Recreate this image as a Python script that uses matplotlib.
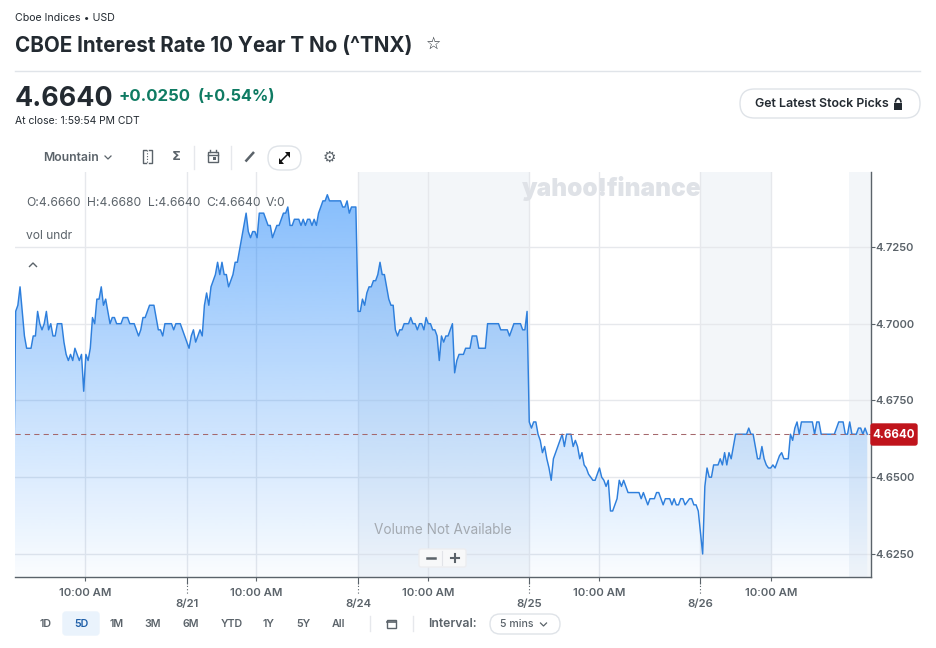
import numpy as np
import matplotlib
matplotlib.use("Agg")
import matplotlib.pyplot as plt
from matplotlib.patches import FancyBboxPatch, Rectangle, Arc

plt.rcParams['font.family'] = ['Inter', 'DejaVu Sans']

# --------------------------- data (5 min bars) ---------------------------
open_before = 4.640
day_0820 = [4.704, 4.706, 4.712, 4.704, 4.696, 4.692, 4.692, 4.692, 4.696, 4.696, 4.704, 4.700, 4.698,
            4.700, 4.704, 4.698, 4.700, 4.696, 4.696, 4.700, 4.700, 4.700, 4.694, 4.690, 4.688, 4.690,
            4.688, 4.692, 4.690, 4.688, 4.690, 4.678, 4.690, 4.688, 4.692, 4.702, 4.700, 4.708, 4.708,
            4.712, 4.706, 4.708, 4.704, 4.700, 4.702, 4.702, 4.700, 4.700, 4.700, 4.702, 4.702, 4.702,
            4.700, 4.700, 4.700, 4.698, 4.696, 4.698, 4.702, 4.702, 4.704, 4.706, 4.706, 4.706, 4.702,
            4.698, 4.698, 4.696, 4.700, 4.700, 4.700, 4.700, 4.698, 4.700, 4.700, 4.700, 4.698, 4.696]
day_0821 = [4.694, 4.692, 4.696, 4.698, 4.694, 4.696, 4.698, 4.696, 4.706, 4.710, 4.706, 4.712, 4.714,
            4.716, 4.720, 4.716, 4.720, 4.716, 4.716, 4.712, 4.714, 4.716, 4.720, 4.720, 4.724, 4.728,
            4.732, 4.736, 4.730, 4.728, 4.730, 4.730, 4.728, 4.736, 4.736, 4.736, 4.734, 4.732, 4.732,
            4.728, 4.730, 4.732, 4.732, 4.734, 4.736, 4.736, 4.738, 4.732, 4.732, 4.734, 4.734, 4.734,
            4.732, 4.734, 4.732, 4.734, 4.734, 4.732, 4.734, 4.732, 4.736, 4.738, 4.740, 4.740, 4.742,
            4.740, 4.740, 4.740, 4.740, 4.740, 4.740, 4.738, 4.738, 4.740, 4.736, 4.738, 4.738, 4.738]
day_0824 = [4.704, 4.704, 4.708, 4.706, 4.710, 4.712, 4.712, 4.714, 4.714, 4.716, 4.720, 4.716, 4.716,
            4.712, 4.708, 4.706, 4.706, 4.698, 4.696, 4.698, 4.698, 4.700, 4.700, 4.700, 4.702, 4.700,
            4.700, 4.698, 4.700, 4.700, 4.698, 4.702, 4.700, 4.700, 4.698, 4.698, 4.696, 4.688, 4.696,
            4.694, 4.696, 4.696, 4.698, 4.700, 4.684, 4.688, 4.690, 4.690, 4.690, 4.692, 4.692, 4.692,
            4.696, 4.696, 4.696, 4.692, 4.692, 4.692, 4.692, 4.700, 4.700, 4.700, 4.700, 4.700, 4.700,
            4.698, 4.698, 4.698, 4.698, 4.696, 4.698, 4.700, 4.700, 4.700, 4.700, 4.698, 4.698, 4.704]
day_0825 = [4.668, 4.666, 4.668, 4.668, 4.664, 4.662, 4.658, 4.660, 4.656, 4.653, 4.649, 4.656, 4.658,
            4.660, 4.662, 4.664, 4.660, 4.664, 4.664, 4.664, 4.660, 4.662, 4.660, 4.656, 4.658, 4.654,
            4.653, 4.651, 4.650, 4.649, 4.649, 4.651, 4.653, 4.650, 4.649, 4.647, 4.649, 4.639, 4.639,
            4.641, 4.643, 4.649, 4.647, 4.649, 4.647, 4.645, 4.645, 4.645, 4.645, 4.645, 4.645, 4.643,
            4.645, 4.643, 4.641, 4.643, 4.643, 4.643, 4.645, 4.645, 4.643, 4.641, 4.643, 4.643, 4.643,
            4.641, 4.643, 4.641, 4.641, 4.643, 4.643, 4.641, 4.642, 4.643, 4.643, 4.641, 4.641, 4.639]
day_0826 = [4.632, 4.625, 4.647, 4.653, 4.650, 4.650, 4.654, 4.654, 4.654, 4.656, 4.654, 4.658, 4.654,
            4.658, 4.656, 4.660, 4.664, 4.664, 4.664, 4.664, 4.664, 4.664, 4.666, 4.664, 4.664, 4.660,
            4.656, 4.656, 4.660, 4.656, 4.654, 4.653, 4.653, 4.654, 4.653, 4.655, 4.657, 4.658, 4.656,
            4.656, 4.656, 4.664, 4.662, 4.666, 4.668, 4.664, 4.668, 4.668, 4.668, 4.668, 4.668, 4.668,
            4.664, 4.668, 4.668, 4.664, 4.664, 4.664, 4.664, 4.664, 4.664, 4.664, 4.666, 4.668, 4.668,
            4.668, 4.664, 4.664, 4.668, 4.664, 4.664, 4.664, 4.666, 4.666, 4.664, 4.666, 4.664]

last_close = 4.664
y_ticks = [4.625, 4.650, 4.675, 4.700, 4.725]
time_ticks = [31.5, 109.5, 188, 266, 344]
time_labels = ['10:00 AM'] * 5
date_ticks = [78, 156, 234, 312]
date_labels = ['8/21', '8/24', '8/25', '8/26']
closed_spans = [(156, 234), (312, 344.5), (379.5, 390)]

ohlc_labels = ['O:4.6660', 'H:4.6680', 'L:4.6640', 'C:4.6640', 'V:0']
ohlc_x = [26, 87, 148.5, 206.5, 266]
range_labels = ['1D', '5D', '1M', '3M', '6M', 'YTD', '1Y', '5Y', 'All']
range_x = [46, 81, 117, 153, 191, 231.5, 269, 303.5, 338]

values = np.array([open_before] + day_0820 + day_0821 + day_0824 + day_0825 + day_0826)
bars = np.arange(len(values)) - 1

# --------------------------- colours ---------------------------
GREY = '#5b636a'
DARK = '#232a31'
GRID = '#e6e8ec'
W, H = 937, 648

fig = plt.figure(figsize=(W / 100, H / 100), dpi=100, facecolor='white')

# chart sits at pixel box x 15-871, y 172-577
ax = fig.add_axes([15 / W, 1 - 577 / H, 856 / W, 405 / H])
ax.set_xlim(-0.3, 389.7)
ax.set_ylim(4.6175, 4.7494)
ax.set_facecolor('white')

for start, end in closed_spans:
    ax.axvspan(start, end, color='#f3f6f9', lw=0, zorder=0)

for t in time_ticks + date_ticks:
    ax.axvline(t, color=GRID, lw=1, zorder=1)
for v in y_ticks:
    ax.axhline(v, color=GRID, lw=1, zorder=1)

# mountain fill: blue with fading alpha, clipped to the area under the line
poly = ax.fill_between(bars, values, ax.get_ylim()[0], color='none', lw=0)
grad = np.zeros((256, 1, 4))
grad[..., 0] = 10 / 255
grad[..., 1] = 122 / 255
grad[..., 2] = 250 / 255
grad[..., 3] = np.linspace(0.52, 0.02, 256)[:, None]
im = ax.imshow(grad, extent=[-0.3, 389.7, ax.get_ylim()[0], ax.get_ylim()[1]], origin='upper',
               aspect='auto', zorder=2)
im.set_clip_path(poly.get_paths()[0], transform=ax.transData)

ax.plot(bars, values, color='#2e7fdc', lw=1.05, zorder=3)
ax.axhline(last_close, color='#a5686c', lw=0.75, ls=(0, (5, 4)), zorder=4)

ax.set_yticks(y_ticks)
ax.set_yticklabels([f'{v:.4f}' for v in y_ticks])
ax.yaxis.tick_right()
ax.set_xticks(time_ticks)
ax.set_xticklabels(time_labels)
ax.set_xticks(date_ticks, minor=True)
ax.set_xticklabels(date_labels, minor=True)
ax.tick_params(axis='y', which='major', length=3, width=0.8, color=GREY, pad=0.5,
               labelsize=8.0, labelcolor=GREY)
ax.tick_params(axis='x', which='major', length=3, width=0.8, color=GREY, pad=5,
               labelsize=8.2, labelcolor=GREY)
ax.tick_params(axis='x', which='minor', length=5, width=0.8, color=GREY, pad=11,
               labelsize=8.2, labelcolor=GREY)
for lab in ax.get_xticklabels() + ax.get_yticklabels() + ax.get_xticklabels(minor=True):
    lab.set_fontweight('semibold')

for side in ['top', 'left']:
    ax.spines[side].set_visible(False)
for side in ['bottom', 'right']:
    ax.spines[side].set_color(GREY)
    ax.spines[side].set_linewidth(1)

# date ticks carry a dotted tail down to their label
tr = ax.get_xaxis_transform()
for t in date_ticks:
    ax.plot([t, t], [-0.012, -0.045], transform=tr, color=GREY, lw=0.8, ls=(0, (1, 2)), clip_on=False)

# --------------------------- page furniture, in pixel coordinates ---------------------------
ui = fig.add_axes([0, 0, 1, 1], zorder=5)
ui.set_xlim(0, W)
ui.set_ylim(H, 0)
ui.axis('off')
ui.patch.set_alpha(0)


def label(x, y, s, px, color=GREY, weight='normal', ha='left', **kw):
    # va center sits a little high for Inter, nudge down
    return ui.text(x, y + 1.2, s, fontsize=px * 0.72, color=color, fontweight=weight, ha=ha, va='center', **kw)


def pill(x0, y0, x1, y1, r, edge='#dfe3e8', face='white', lw=1, z=2):
    ui.add_patch(FancyBboxPatch((x0 + r, y0 + r), x1 - x0 - 2 * r, y1 - y0 - 2 * r,
                                boxstyle=f'round,pad={r},rounding_size={r}', fc=face, ec=edge, lw=lw, zorder=z))


label(15, 17, 'Cboe Indices • USD', 10.6, color=DARK)
label(15, 45, 'CBOE Interest Rate 10 Year T No (^TNX)', 20.6, color=DARK, weight='bold')
label(434, 43, '☆', 17, color=DARK, ha='center', family='DejaVu Sans')
ui.plot([15, 920], [70.5, 70.5], color='#e0e4e9', lw=1)

label(15, 98, '4.6640', 26.8, color=DARK, weight='bold')
label(119, 95, '+0.0250', 16.8, color='#0f7b63', weight='bold')
label(198, 95, '(+0.54%)', 16.2, color='#0f7b63', weight='bold')
label(15, 119.5, 'At close: 1:59:54 PM CDT', 10.4, color=DARK)

pill(740, 89, 920, 118, 14.5)
label(755, 103, 'Get Latest Stock Picks', 12.4, color=DARK, weight='semibold')
ui.add_patch(Rectangle((894, 103), 8.5, 6.5, fc=DARK, ec='none', zorder=3))
ui.add_patch(Arc((898.2, 102.5), 5.5, 8, theta1=180, theta2=360, color=DARK, lw=1.2, zorder=3))

# toolbar
label(43, 156.5, 'Mountain', 12.2, weight='semibold')
ui.plot([105, 108, 111], [156, 159, 156], color=GREY, lw=0.9)
ui.plot([146, 143, 143, 146], [150, 150, 163, 163], color=GREY, lw=1)
ui.plot([149, 152, 152, 149], [150, 150, 163, 163], color=GREY, lw=1)
ui.plot([147.5, 147.5], [150, 163], color=GREY, lw=0.8, ls=(0, (1, 1.5)))
label(176, 155.5, 'Σ', 13, weight='bold', ha='center', family='DejaVu Sans')
ui.plot([194.5, 194.5], [146, 169], color=GRID, lw=1)
ui.add_patch(Rectangle((208, 151.5), 10.5, 10.5, fc='none', ec=GREY, lw=1))
ui.plot([208, 218.5], [154.5, 154.5], color=GREY, lw=1)
ui.plot([210.5, 210.5], [150, 152], color=GREY, lw=1)
ui.plot([216, 216], [150, 152], color=GREY, lw=1)
ui.add_patch(Rectangle((213.5, 157), 3, 3, fc=GREY, ec='none'))
ui.plot([231.5, 231.5], [146, 169], color=GRID, lw=1)
ui.plot([245.5, 254], [161.5, 152], color=GREY, lw=1.8, solid_capstyle='butt')
pill(268, 146, 301, 170, 12)
ui.plot([280, 289], [162, 153], color='#111111', lw=1.1, zorder=3)
ui.fill([285, 290.5, 290.5], [152, 152, 157.5], color='#111111', lw=0, zorder=3)
ui.fill([284.5, 279, 279], [163.5, 163.5, 158], color='#111111', lw=0, zorder=3)
label(329, 156, '⚙', 15, ha='center', family='DejaVu Sans')

# chart overlays
for x, s in zip(ohlc_x, ohlc_labels):
    label(x, 201.5, s, 12.1)
label(26, 235, 'vol undr', 12.1)
ui.plot([29.5, 33, 36.5], [266.5, 263, 266.5], color=GREY, lw=1)
label(612, 187.5, 'yahoo!finance', 24.5, color='#dfe2e7', weight='black', ha='center')
label(443, 529, 'Volume Not Available', 13.6, color='#a3a9b0', ha='center')
pill(419, 549, 466, 567, 2, edge='#ecedf0', face='#f7f8f9')
ui.plot([442.5, 442.5], [551, 565], color='#e2e4e8', lw=0.8, zorder=3)
ui.plot([427, 435], [558, 558], color=GREY, lw=1.8, zorder=3)
ui.plot([451, 459], [558, 558], color=GREY, lw=1.5, zorder=3)
ui.plot([455, 455], [554, 562], color=GREY, lw=1.5, zorder=3)

# last price tag
pill(871, 424, 917, 445, 2, edge='#c0141c', face='#c0141c')
label(894, 433.5, '4.6640', 11.6, color='white', weight='bold', ha='center')

# range selector
pill(63, 612, 99, 635, 3, edge='#eaf3fc', face='#eaf3fc')
for x, s in zip(range_x, range_labels):
    label(x, 622.5, s, 10.6, color='#1f5fa8' if s == '5D' else GREY, weight='semibold', ha='center')
ui.plot([370.5, 370.5], [616, 631], color=GRID, lw=1)
ui.plot([413, 413], [616, 631], color=GRID, lw=1)
ui.add_patch(Rectangle((387, 619.5), 9, 8.5, fc='none', ec=GREY, lw=1))
ui.plot([387, 396], [621.5, 621.5], color=GREY, lw=1.2)
label(428, 623, 'Interval:', 12.2, weight='semibold')
pill(490, 614, 560, 634, 10)
label(500, 622.5, '5 mins', 10.6, weight='medium')
ui.plot([540.5, 543.5, 546.5], [623, 626, 623], color=GREY, lw=0.9, zorder=3)

fig.savefig('out.png', dpi=100, facecolor='white')
